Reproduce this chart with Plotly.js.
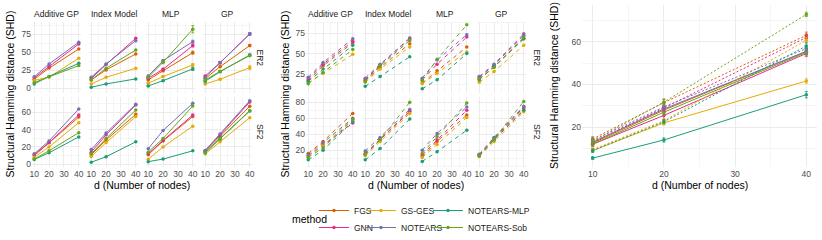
<!DOCTYPE html>
<html><head><meta charset="utf-8">
<script src="https://cdn.plot.ly/plotly-3.0.1.min.js"></script>
<style>html,body{margin:0;padding:0;background:#fff}</style>
</head><body><div id="chart" style="width:822px;height:240px"></div>
<script>
// ---------- data ----------
const methods = ["FGS","GNN","GS-GES","NOTEARS","NOTEARS-MLP","NOTEARS-Sob"];
const methodColors = ["#D95F02","#E7298A","#E6AB02","#7570B3","#1B9E77","#66A61E"];
const nodes = [10,20,40];
const xTickLabels = [10,20,30,40];
const functionNames = ["Additive GP","Index Model","MLP","GP"];
const graphNames = ["ER2","SF2"];

// rows follow `methods`; each row = SHD at d = 10, 20, 40
// left block (solid lines)
const solidER2AdditiveGP = [[12.5,28,54.6],[14.5,30,61.5],[11,15.5,41.7],[16,33.8,63.9],[6,16.5,34.7],[8,16,31.5]];
const solidER2IndexModel = [[11.6,25.5,47.7],[13.4,33,69.4],[6,15.3,27.8],[15.3,33.8,66.2],[1.4,6,13],[11.6,27.8,53.2]];
const solidER2MLP = [[11.6,24.5,49.5],[13.9,26.4,59.3],[7,16.2,32.4],[17,38.4,64.8],[3.2,10.6,26.9],[15.3,36.1,82]];
const solidER2GP = [[13.4,30,59.3],[17,35.6,75.5],[6,12.5,28.7],[15.3,35.6,75.5],[9.7,23,46.3],[11.6,23.5,45.4]];
const solidSF2AdditiveGP = [[10,24.7,54.5],[11,25,57],[8,20,48],[12,27,63.8],[5.5,13.3,31.6],[6,15.6,36.5]];
const solidSF2IndexModel = [[11,28,57.7],[14,34,68.4],[9,25,55],[17,36,69.4],[2.3,8.7,25.9],[12,29.7,62.6]];
const solidSF2MLP = [[11,27,55],[12,27.5,56.8],[5.7,20,44],[18,39,70.3],[3,6,15.5],[14,29.7,67.2]];
const solidSF2GP = [[15,32,67],[16,34,72],[12,26,53.8],[16,35,73.4],[14,29.7,61.5],[13,29,62]];
// visible error-bar half widths (left block, ER2 MLP and ER2 GP)
const solidER2MLPErr = [[1,1.5,2],[1,1.5,2],[0.8,1,2],[1,1.5,2],[0.6,1,2],[1,2,5]];
const solidER2GPErr = [[1,1,1.5],[1,1.5,1.5],[0.8,1,2.5],[1,1.5,1.5],[1,1,1.5],[1,1,1.5]];
// middle block (dashed lines)
const dashER2AdditiveGP = [[17,35,63],[19,37,65],[14,26,49],[21,39,68],[16,31,60],[13,27,55]];
const dashER2IndexModel = [[17,33,62],[18,36,69],[15,31,58],[20,37,68],[10,22,46],[16,35,66]];
const dashER2MLP = [[14,29,58],[18,37,70],[13,26,52],[20,42,73],[7,18,50],[17,43,85]];
const dashER2GP = [[19,34,68],[21,36,72],[15,28,60],[22,37,74],[18,34,68],[19,33,70]];
const dashSF2AdditiveGP = [[16,31,66],[13,26,54],[12,26,59],[14,29,60],[8,20,56],[11,23,58]];
const dashSF2IndexModel = [[14,33,68],[16,34,69],[13,31,66],[19,36,71],[8,22,59],[15,33,80]];
const dashSF2MLP = [[12,31,64],[14,33,70],[11,27,61],[20,41,74],[6,18,45],[16,37,79]];
const dashSF2GP = [[14,34,72],[14,35,74],[12,31,68],[15,36,75],[13,33,70],[13,34,81]];
// right panel
const overallSolid = [[12.5,28,55.5],[12,25.5,54.5],[9,22,41.6],[13,28.5,55.5],[5.5,14,35.2],[12,27,55]];
const overallDotted = [[14.5,31.5,63],[13,29,62],[9.5,23,60.7],[13.8,29.5,56.8],[9,22.5,58],[13.5,31.7,72.8]];
const overallSolidErr = [[1,1.5,1.5],[1,2,1.5],[0.8,1,1],[1,1.5,1.5],[0.6,1,1.5],[1,1.5,1.5]];
const overallDottedErr = [[1,1.5,1.5],[1,1.5,1.5],[0.8,1,1.2],[1,1.5,1.5],[0.8,1,1.5],[1,1.5,1]];

const solidPanels = [[solidER2AdditiveGP,solidER2IndexModel,solidER2MLP,solidER2GP],[solidSF2AdditiveGP,solidSF2IndexModel,solidSF2MLP,solidSF2GP]];
const solidErrPanels = [[null,null,solidER2MLPErr,solidER2GPErr],[null,null,null,null]];
const dashPanels = [[dashER2AdditiveGP,dashER2IndexModel,dashER2MLP,dashER2GP],[dashSF2AdditiveGP,dashSF2IndexModel,dashSF2MLP,dashSF2GP]];

// ---------- layout helpers ----------
const W = 822, H = 240;
const FONT = "Liberation Sans, Arial, Helvetica, sans-serif";
const fx = v => v / W;
const fy = v => 1 - v / H;
const GRID = "#EBEBEB";

const layout = {
  width: W, height: H,
  margin: {l:0, r:0, t:0, b:0, autoexpand: false},
  paper_bgcolor: "#fff", plot_bgcolor: "#fff",
  font: {family: FONT, size: 8.5, color: "#4D4D4D"},
  showlegend: true,
  annotations: []
};
const traces = [];
let nAx = 0;

function addAxes(xpx, ypx, yrange, yticks, yminor, showX, showY) {
  nAx++;
  const sfx = nAx === 1 ? "" : String(nAx);
  layout["xaxis" + sfx] = {
    domain: [fx(xpx[0]), fx(xpx[1])], range: [8.5, 41.5], anchor: "y" + sfx,
    tickmode: "array", tickvals: xTickLabels, showticklabels: showX,
    ticks: "", showgrid: true, gridcolor: GRID, gridwidth: 1, zeroline: false, showline: false,
    minor: {tickmode: "array", tickvals: [15,25,35], showgrid: true, gridcolor: GRID, gridwidth: 0.5},
    tickfont: {size: 8.5, color: "#4D4D4D"}, fixedrange: true
  };
  layout["yaxis" + sfx] = {
    domain: [fy(ypx[1]), fy(ypx[0])], range: yrange, anchor: "x" + sfx,
    tickmode: "array", tickvals: yticks, showticklabels: showY,
    ticks: "", showgrid: true, gridcolor: GRID, gridwidth: 1, zeroline: false, showline: false,
    minor: {tickmode: "array", tickvals: yminor, showgrid: true, gridcolor: GRID, gridwidth: 0.5},
    tickfont: {size: 8.5, color: "#4D4D4D"}, fixedrange: true
  };
  return {x: "x" + sfx, y: "y" + sfx};
}

function addSeries(ax, data, dash, legendOn, errs) {
  data.forEach((vals, m) => {
    const t = {
      x: nodes, y: vals, type: "scatter", mode: "lines+markers",
      name: methods[m],
      line: {color: methodColors[m], width: 1, dash: dash},
      marker: {color: methodColors[m], size: 3.5},
      xaxis: ax.x, yaxis: ax.y, hoverinfo: "skip",
      showlegend: !!legendOn
    };
    if (errs) t.error_y = {type: "data", array: errs[m], visible: true, color: methodColors[m], thickness: 0.8, width: 1.5};
    if (legendOn) t.legend = m === 0 ? "legend" : "legend" + (m + 1);
    traces.push(t);
  });
}

const leftCols = [[32,81],[89,138],[146,195],[203,252]];
const midCols = [[306,355],[363,412],[420,469],[477,526]];
const rows = [[21.7,93.3],[96.7,167.3]];
const leftY = [
  {range:[-7,92.5], ticks:[0,25,50,75], minor:[12.5,37.5,62.5,87.5]},
  {range:[-3.5,78], ticks:[0,20,40,60], minor:[10,30,50,70]}
];
const midY = [
  {range:[1.5,88.8], ticks:[25,50,75], minor:[12.5,37.5,62.5,87.5]},
  {range:[-1.4,86.9], ticks:[20,40,60,80], minor:[0,10,30,50,70]}
];

for (let r = 0; r < 2; r++) {
  for (let c = 0; c < 4; c++) {
    const ax = addAxes(leftCols[c], rows[r], leftY[r].range, leftY[r].ticks, leftY[r].minor, r === 1, c === 0);
    addSeries(ax, solidPanels[r][c], "solid", r === 0 && c === 0, solidErrPanels[r][c]);
  }
}
for (let r = 0; r < 2; r++) {
  for (let c = 0; c < 4; c++) {
    const ax = addAxes(midCols[c], rows[r], midY[r].range, midY[r].ticks, midY[r].minor, r === 1, c === 0);
    addSeries(ax, dashPanels[r][c], "4px,4px", false, null);
  }
}
const axR = addAxes([582,817], [5,167.3], [1.2,77.2], [20,40,60], [10,30,50,70], true, true);
addSeries(axR, overallSolid, "solid", false, overallSolidErr);
addSeries(axR, overallDotted, "2px,2px", false, overallDottedErr);

// ---------- text ----------
function ann(text, xpx, ypx, opts) {
  layout.annotations.push(Object.assign({
    text: text, x: fx(xpx), y: fy(ypx), xref: "paper", yref: "paper",
    showarrow: false, xanchor: "center", yanchor: "middle",
    font: {family: FONT, size: 8.5, color: "#1A1A1A"}
  }, opts || {}));
}
functionNames.forEach((f, c) => {
  ann(f, (leftCols[c][0] + leftCols[c][1]) / 2, 14);
  ann(f, (midCols[c][0] + midCols[c][1]) / 2, 14);
});
graphNames.forEach((g, r) => {
  const yc = (rows[r][0] + rows[r][1]) / 2;
  ann(g, 260, yc, {textangle: 90});
  ann(g, 537, yc, {textangle: 90});
});
const yTitle = "Structural Hamming distance (SHD)";
const xTitle = "d (Number of nodes)";
const titleFont = {family: FONT, size: 10.5, color: "#000"};
ann(yTitle, 9, 94.5, {textangle: -90, font: titleFont});
ann(yTitle, 284, 94.5, {textangle: -90, font: titleFont});
ann(yTitle, 554, 86, {textangle: -90, font: titleFont});
ann(xTitle, 142, 185, {font: titleFont});
ann(xTitle, 416, 185, {font: titleFont});
ann(xTitle, 700, 185, {font: titleFont});
ann("method", 309, 219, {font: titleFont});

// legend: 3 columns x 2 rows (FGS/GNN, GS-GES/NOTEARS, NOTEARS-MLP/NOTEARS-Sob)
const legBase = {
  orientation: "v", xanchor: "left", yanchor: "top",
  font: {family: FONT, size: 8.5, color: "#1A1A1A"}, bgcolor: "rgba(0,0,0,0)",
  tracegroupgap: 0, itemclick: false, itemdoubleclick: false
};
const legColX = [314, 361, 428];
const legRowTop = [196, 213];
for (let m = 0; m < 6; m++) {
  const key = m === 0 ? "legend" : "legend" + (m + 1);
  layout[key] = Object.assign({}, legBase, {x: fx(legColX[Math.floor(m / 2)]), y: fy(legRowTop[m % 2])});
}

Plotly.newPlot("chart", traces, layout, {staticPlot: true, displayModeBar: false});
</script></body></html>
